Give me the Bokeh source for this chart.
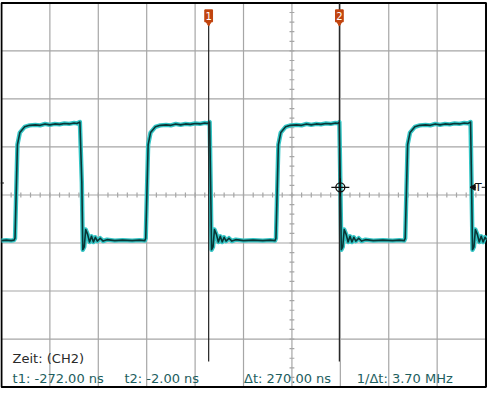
import numpy as np
from bokeh.plotting import figure
from bokeh.models import Range1d
from bokeh.core.properties import value
from bokeh.embed import file_html
from bokeh.resources import INLINE

# ---- data (time in ns, amplitude in divisions) ----
trace_t = [-700, -690, -680, -674,
           -672, -667, -662, -652, -642, -630, -620, -610, -600, -590, -580, -570, -560, -550, -544, -538,
           -534, -532, -529, -526, -522, -518, -514, -510, -506, -502, -496, -490, -482, -466, -450, -430, -415, -404,
           -402, -397, -392, -382, -372, -360, -350, -340, -330, -320, -310, -300, -290, -280, -274, -270,
           -268, -266, -263, -260, -256, -252, -248, -244, -240, -236, -230, -224, -216, -200, -180, -160, -145, -135,
           -133, -128, -123, -113, -103, -91, -80, -70, -60, -50, -40, -30, -20, -10, -5, -2,
           0, 2, 5, 8, 12, 16, 20, 24, 28, 32, 38, 44, 52, 68, 88, 108, 122, 132,
           134, 139, 144, 154, 164, 176, 186, 196, 206, 216, 226, 236, 246, 256, 264, 269,
           271, 273, 276, 279, 283, 287, 291, 295, 299, 302]
trace_v = [-0.95, -0.94, -0.95, -0.94,
           -0.90, 1.05, 1.30, 1.42, 1.45, 1.46, 1.45, 1.48, 1.46, 1.48, 1.47, 1.49, 1.48, 1.50, 1.49, 1.52,
           0.26, -1.14, -1.08, -0.72, -0.82, -0.98, -0.86, -0.98, -0.88, -0.96, -0.90, -0.96, -0.93, -0.95, -0.94, -0.95, -0.94, -0.95,
           -0.90, 1.05, 1.30, 1.42, 1.45, 1.46, 1.45, 1.48, 1.46, 1.48, 1.47, 1.49, 1.48, 1.50, 1.49, 1.52,
           0.26, -1.14, -1.08, -0.72, -0.82, -0.98, -0.86, -0.98, -0.88, -0.96, -0.90, -0.96, -0.93, -0.95, -0.94, -0.95, -0.94, -0.95,
           -0.90, 1.05, 1.30, 1.42, 1.45, 1.46, 1.45, 1.48, 1.46, 1.48, 1.47, 1.49, 1.48, 1.50, 1.49, 1.52,
           0.26, -1.14, -1.08, -0.72, -0.82, -0.98, -0.86, -0.98, -0.88, -0.96, -0.90, -0.96, -0.93, -0.95, -0.94, -0.95, -0.94, -0.95,
           -0.90, 1.05, 1.30, 1.42, 1.45, 1.46, 1.45, 1.48, 1.46, 1.48, 1.47, 1.49, 1.48, 1.50, 1.49, 1.52,
           0.26, -1.14, -1.08, -0.72, -0.82, -0.98, -0.86, -0.98, -0.88, -0.93]

cursor_times = [-272.0, -2.0]          # t1, t2 in ns
cursor_labels = ["1", "2"]
trigger_time = 0.0
trigger_level = 0.16
channel_name = "CH2"

x_grid_ticks = [-700, -600, -500, -400, -300, -200, -100, 0, 100, 200, 300]
y_grid_ticks = [-4, -3, -2, -1, 0, 1, 2, 3, 4]
x_center = -100
y_center = 0

# ---- figure ----
W, H = 487, 388
p = figure(width=W, height=H, output_backend="svg", toolbar_location=None,
           x_range=Range1d(-702, 304), y_range=Range1d(-4.03, 4.05),
           min_border=0, min_border_left=0, min_border_right=0,
           min_border_top=0, min_border_bottom=0)
p.axis.visible = False
p.xgrid.visible = False
p.ygrid.visible = False
p.outline_line_color = None
p.background_fill_color = "white"
p.border_fill_color = "white"

grid_col = "#a6a6a6"
# grid
p.segment(x0=x_grid_ticks, y0=[-4] * len(x_grid_ticks), x1=x_grid_ticks, y1=[4] * len(x_grid_ticks),
          line_color=grid_col, line_width=1.2)
p.segment(x0=[-700] * len(y_grid_ticks), y0=y_grid_ticks, x1=[300] * len(y_grid_ticks), y1=y_grid_ticks,
          line_color=grid_col, line_width=1.2)

# minor ticks on center lines
mt_x = np.arange(-700, 301, 20)
p.segment(x0=mt_x, y0=y_center - 0.05, x1=mt_x, y1=y_center + 0.05, line_color=grid_col, line_width=1.2)
mt_y = np.arange(-4, 4.01, 0.2)
p.segment(x0=x_center - 5, y0=mt_y, x1=x_center + 5, y1=mt_y, line_color=grid_col, line_width=1.2)

# border
p.quad(left=[-700], right=[301], bottom=[-4], top=[4], fill_color=None, line_color="black", line_width=2)

# waveform
p.line(trace_t, trace_v, line_color="#34c6c6", line_width=4.4, line_join="round")
p.line(trace_t, trace_v, line_color="#0a3535", line_width=1.6, line_join="round")

# cursors
pin_col = "#c1440e"
p.segment(x0=[cursor_times[0]], y0=[3.56], x1=[cursor_times[0]], y1=[-3.47], line_color="#222222", line_width=1.2)
p.segment(x0=[cursor_times[1]], y0=[4.0], x1=[cursor_times[1]], y1=[-3.47], line_color="#222222", line_width=1.2)
p.rect(x=cursor_times, y=[3.73, 3.73], width=16, height=0.25, fill_color=pin_col, line_color=pin_col)
p.scatter(x=cursor_times, y=[3.59, 3.59], marker="inverted_triangle", size=6, fill_color=pin_col, line_color=pin_col)
p.text(x=cursor_times, y=[3.72, 3.72], text=cursor_labels, text_color="white", text_font=value("DejaVu Sans"),
       text_font_size="10px", text_align="center", text_baseline="middle")

# trigger crosshair
p.scatter(x=[trigger_time], y=[trigger_level], marker="circle", size=9, fill_color=None,
          line_color="#111111", line_width=1.3)
p.scatter(x=[trigger_time], y=[trigger_level], marker="cross", size=18, line_color="#111111", line_width=1.2)

# trigger marker right edge
p.scatter(x=[275], y=[trigger_level], marker="triangle", angle=np.pi / 2, size=6,
          fill_color="#111111", line_color="#111111")
p.segment(x0=[272], y0=[trigger_level], x1=[280], y1=[trigger_level], line_color="#111111", line_width=1)
p.text(x=[285], y=[trigger_level], text=["T"], text_color="#111111", text_font=value("DejaVu Sans"),
       text_font_size="11px", text_align="center", text_baseline="middle")
p.segment(x0=[292], y0=[trigger_level], x1=[299], y1=[trigger_level], line_color="#111111", line_width=1)

# channel ground marker on left edge
p.segment(x0=[-702], y0=[0.25], x1=[-695], y1=[0.25], line_color="#111111", line_width=1.2)

# measurement texts
t1, t2 = cursor_times
dt = t2 - t1
inv = 1000.0 / dt  # MHz
lab_font = value("DejaVu Sans")
p.text(x=[-677], y=[-3.40], text=["Zeit: (%s)" % channel_name], text_color="#2a2a2a", text_font=lab_font,
       text_font_size="13px", text_baseline="alphabetic")
meas = ["t1: %.2f ns" % t1, "t2: %.2f ns" % t2, "\u0394t: %.2f ns" % dt, "1/\u0394t: %.2f MHz" % inv]
p.text(x=[-677, -446, -199, 34], y=[-3.83] * 4, text=meas, text_color="#1d5e5e", text_font=lab_font,
       text_font_size="13px", text_baseline="alphabetic")

open("out.html", "w").write(file_html(p, INLINE))
